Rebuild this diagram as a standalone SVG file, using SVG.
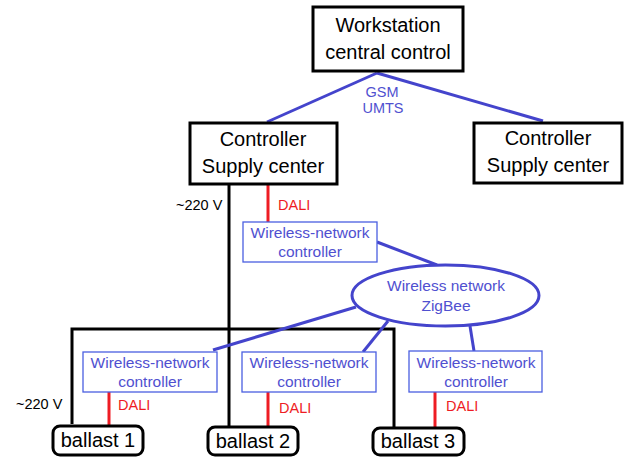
<svg xmlns="http://www.w3.org/2000/svg" width="624" height="457" viewBox="0 0 624 457">
<style>
.bx{fill:#fff;stroke:#000;stroke-width:3}
.wn{fill:#fff;stroke:#4a5fe0;stroke-width:1.3}
.big{font-family:"Liberation Sans",Arial,sans-serif;font-size:20px;fill:#000;text-anchor:middle}
.sm{font-family:"Liberation Sans",Arial,sans-serif;font-size:15.5px;fill:#5050d0;text-anchor:middle}
.lbl{font-family:"Liberation Sans",Arial,sans-serif;font-size:14.5px}
.blu{stroke:#4444cc;stroke-width:3;fill:none}
.blk{stroke:#000;stroke-width:3;fill:none}
.red{stroke:#ee1c24;stroke-width:3;fill:none}
</style>
<rect width="624" height="457" fill="#fff"/>
<g id="connectors">
<line class="blu" x1="377" y1="73" x2="267" y2="122"/>
<line class="blu" x1="377" y1="73" x2="543" y2="121"/>
<polyline class="blk" points="229,184 229,426"/>
<polyline class="blk" points="72,424 72,329 394,329 394,428"/>
<line class="red" x1="268" y1="184" x2="268" y2="222"/>
<line class="blu" x1="377" y1="242" x2="437" y2="265"/>
<line class="blu" x1="356" y1="307" x2="213" y2="350"/>
<line class="blu" x1="388" y1="321" x2="363" y2="352"/>
<line class="blu" x1="470" y1="326" x2="474" y2="351"/>
<line class="red" x1="109" y1="392" x2="109" y2="426"/>
<line class="red" x1="268" y1="392" x2="268" y2="427"/>
<line class="red" x1="435" y1="392" x2="435" y2="428"/>
<text class="lbl" x="382" y="97" fill="#5050d0" text-anchor="middle" font-size="14">GSM</text>
<text class="lbl" x="383" y="113" fill="#5050d0" text-anchor="middle" font-size="14">UMTS</text>
<text class="lbl" x="176" y="210" fill="#000">~220 V</text>
<text class="lbl" x="16" y="409" fill="#000">~220 V</text>
<text class="lbl" x="278" y="210" fill="#ee1c24">DALI</text>
<text class="lbl" x="118" y="410" fill="#ee1c24">DALI</text>
<text class="lbl" x="279" y="413" fill="#ee1c24">DALI</text>
<text class="lbl" x="446" y="411" fill="#ee1c24">DALI</text>
</g>
<g id="workstation">
<rect class="bx" x="313" y="7" width="150" height="64"/>
<text class="big" x="388" y="32">Workstation</text>
<text class="big" x="388" y="59">central control</text>
</g>
<g id="controller1">
<rect class="bx" x="190" y="123" width="147" height="61"/>
<text class="big" x="263" y="146">Controller</text>
<text class="big" x="263" y="173">Supply center</text>
</g>
<g id="controller2">
<rect class="bx" x="474" y="123" width="148" height="60"/>
<text class="big" x="548" y="145">Controller</text>
<text class="big" x="548" y="172">Supply center</text>
</g>
<g id="wnc-top">
<rect class="wn" x="243" y="222" width="134" height="40"/>
<text class="sm" x="310" y="238">Wireless-network</text>
<text class="sm" x="310" y="257">controller</text>
</g>
<g id="zigbee">
<ellipse cx="445.5" cy="295.5" rx="93.5" ry="30.5" fill="#fff" stroke="#4444cc" stroke-width="3"/>
<text class="sm" x="446" y="291">Wireless network</text>
<text class="sm" x="446" y="311">ZigBee</text>
</g>
<g id="wnc1">
<rect class="wn" x="83" y="352" width="134" height="40"/>
<text class="sm" x="150" y="368">Wireless-network</text>
<text class="sm" x="150" y="387">controller</text>
</g>
<g id="wnc2">
<rect class="wn" x="242" y="352" width="134" height="40"/>
<text class="sm" x="309" y="368">Wireless-network</text>
<text class="sm" x="309" y="387">controller</text>
</g>
<g id="wnc3">
<rect class="wn" x="409" y="351" width="133" height="41"/>
<text class="sm" x="476" y="368">Wireless-network</text>
<text class="sm" x="476" y="387">controller</text>
</g>
<g id="ballast1">
<rect class="bx" x="53" y="426" width="90" height="29" rx="7"/>
<text class="big" x="98" y="447">ballast 1</text>
</g>
<g id="ballast2">
<rect class="bx" x="208" y="427" width="90" height="28" rx="7"/>
<text class="big" x="253" y="448">ballast 2</text>
</g>
<g id="ballast3">
<rect class="bx" x="373" y="428" width="91" height="27" rx="7"/>
<text class="big" x="418" y="448">ballast 3</text>
</g>
</svg>
